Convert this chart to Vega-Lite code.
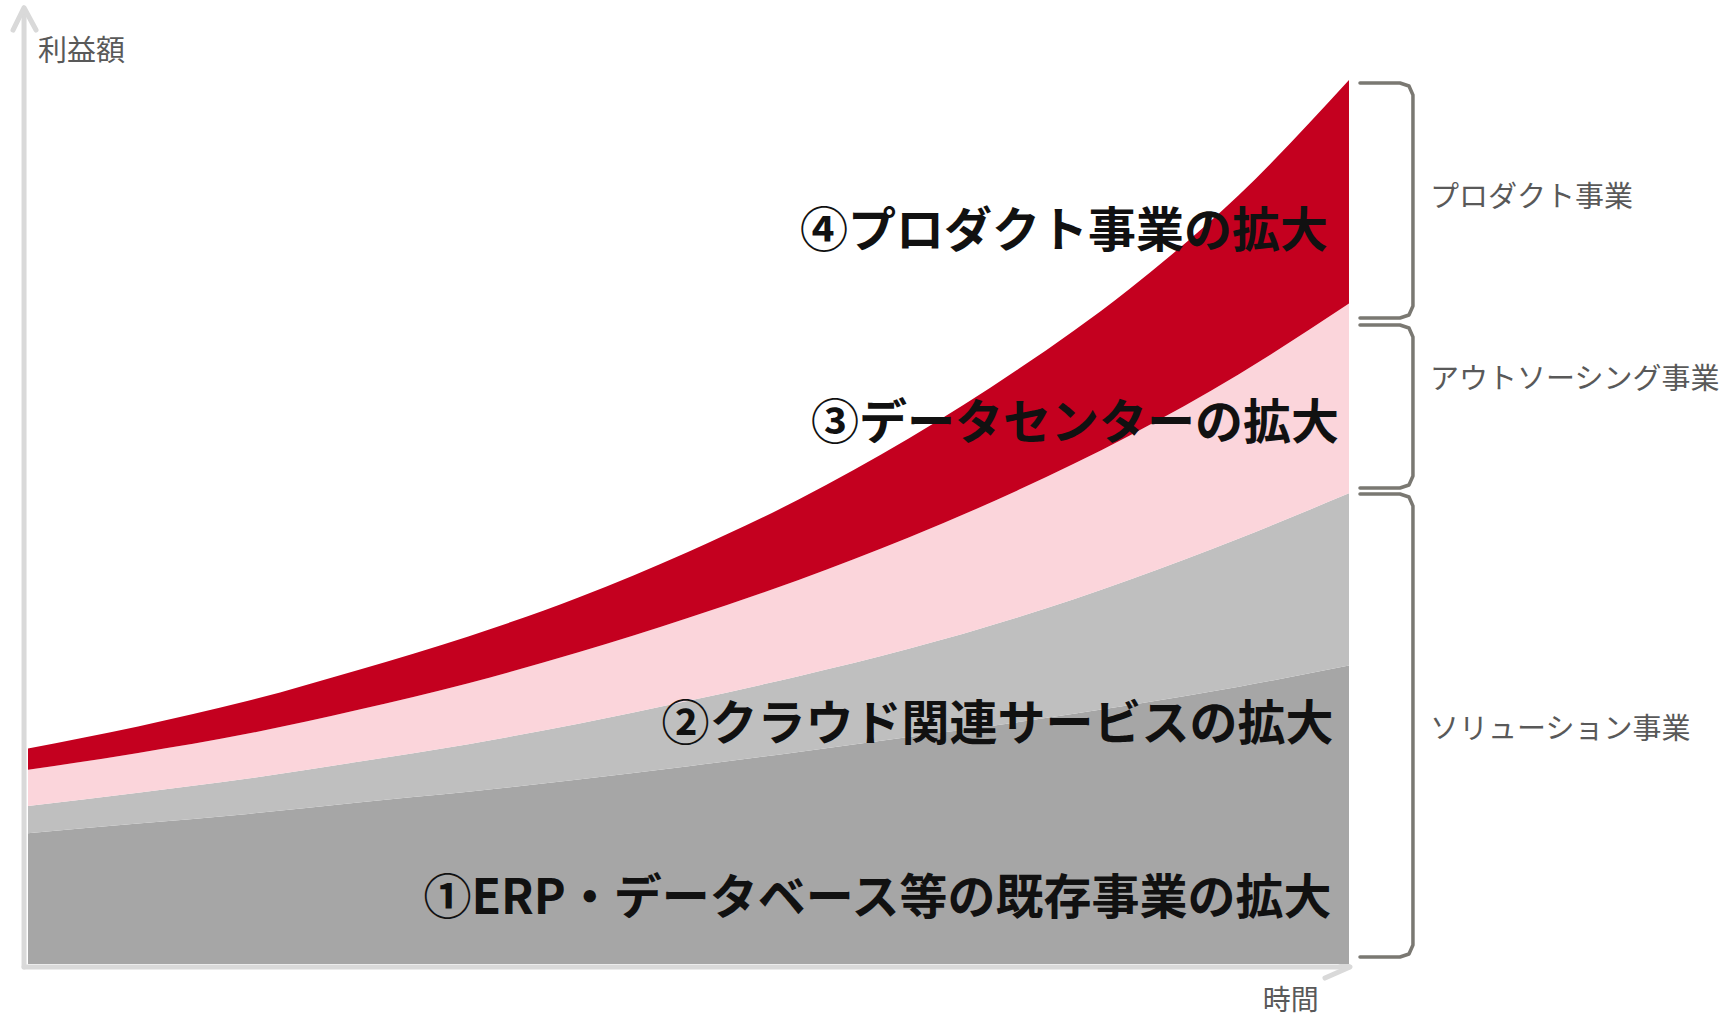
{
  "$schema": "https://vega.github.io/schema/vega-lite/v6.json",
  "width": 1731,
  "height": 1019,
  "autosize": {"type": "none"},
  "padding": 0,
  "background": "white",
  "config": {"view": {"stroke": null}},
  "datasets": {
    "areas": [
      {"t":0,"k":1,"s":"ERP・データベース等の既存事業","value":14.8},
      {"t":1,"k":1,"s":"ERP・データベース等の既存事業","value":15.9},
      {"t":2,"k":1,"s":"ERP・データベース等の既存事業","value":17.0},
      {"t":3,"k":1,"s":"ERP・データベース等の既存事業","value":18.3},
      {"t":4,"k":1,"s":"ERP・データベース等の既存事業","value":19.5},
      {"t":5,"k":1,"s":"ERP・データベース等の既存事業","value":20.9},
      {"t":6,"k":1,"s":"ERP・データベース等の既存事業","value":22.4},
      {"t":7,"k":1,"s":"ERP・データベース等の既存事業","value":24.0},
      {"t":8,"k":1,"s":"ERP・データベース等の既存事業","value":25.7},
      {"t":9,"k":1,"s":"ERP・データベース等の既存事業","value":27.4},
      {"t":10,"k":1,"s":"ERP・データベース等の既存事業","value":29.3},
      {"t":11,"k":1,"s":"ERP・データベース等の既存事業","value":31.4},
      {"t":12,"k":1,"s":"ERP・データベース等の既存事業","value":33.8},
      {"t":0,"k":2,"s":"クラウド関連サービス","value":3.1},
      {"t":1,"k":2,"s":"クラウド関連サービス","value":3.5},
      {"t":2,"k":2,"s":"クラウド関連サービス","value":4.0},
      {"t":3,"k":2,"s":"クラウド関連サービス","value":4.6},
      {"t":4,"k":2,"s":"クラウド関連サービス","value":5.4},
      {"t":5,"k":2,"s":"クラウド関連サービス","value":6.3},
      {"t":6,"k":2,"s":"クラウド関連サービス","value":7.4},
      {"t":7,"k":2,"s":"クラウド関連サービス","value":8.6},
      {"t":8,"k":2,"s":"クラウド関連サービス","value":10.0},
      {"t":9,"k":2,"s":"クラウド関連サービス","value":11.9},
      {"t":10,"k":2,"s":"クラウド関連サービス","value":14.2},
      {"t":11,"k":2,"s":"クラウド関連サービス","value":16.8},
      {"t":12,"k":2,"s":"クラウド関連サービス","value":19.5},
      {"t":0,"k":3,"s":"データセンター","value":4.1},
      {"t":1,"k":3,"s":"データセンター","value":4.5},
      {"t":2,"k":3,"s":"データセンター","value":5.1},
      {"t":3,"k":3,"s":"データセンター","value":5.9},
      {"t":4,"k":3,"s":"データセンター","value":6.9},
      {"t":5,"k":3,"s":"データセンター","value":8.1},
      {"t":6,"k":3,"s":"データセンター","value":9.4},
      {"t":7,"k":3,"s":"データセンター","value":10.9},
      {"t":8,"k":3,"s":"データセンター","value":12.6},
      {"t":9,"k":3,"s":"データセンター","value":14.4},
      {"t":10,"k":3,"s":"データセンター","value":16.3},
      {"t":11,"k":3,"s":"データセンター","value":18.6},
      {"t":12,"k":3,"s":"データセンター","value":21.5},
      {"t":0,"k":4,"s":"プロダクト事業","value":2.4},
      {"t":1,"k":4,"s":"プロダクト事業","value":3.0},
      {"t":2,"k":4,"s":"プロダクト事業","value":3.7},
      {"t":3,"k":4,"s":"プロダクト事業","value":4.5},
      {"t":4,"k":4,"s":"プロダクト事業","value":5.3},
      {"t":5,"k":4,"s":"プロダクト事業","value":6.2},
      {"t":6,"k":4,"s":"プロダクト事業","value":7.5},
      {"t":7,"k":4,"s":"プロダクト事業","value":9.1},
      {"t":8,"k":4,"s":"プロダクト事業","value":11.2},
      {"t":9,"k":4,"s":"プロダクト事業","value":13.7},
      {"t":10,"k":4,"s":"プロダクト事業","value":16.6},
      {"t":11,"k":4,"s":"プロダクト事業","value":20.3},
      {"t":12,"k":4,"s":"プロダクト事業","value":25.3}
    ],
    "axes": [
      {"id":"y","seq":0,"t":-0.036,"v":-0.34},
      {"id":"y","seq":1,"t":-0.036,"v":108.1},
      {"id":"ya","seq":0,"t":-0.136,"v":105.77},
      {"id":"ya","seq":1,"t":-0.036,"v":108.3},
      {"id":"ya","seq":2,"t":0.073,"v":105.77},
      {"id":"x","seq":0,"t":-0.036,"v":-0.34},
      {"id":"x","seq":1,"t":12.0,"v":-0.34},
      {"id":"xa","seq":0,"t":11.782,"v":1.02},
      {"id":"xa","seq":1,"t":12.009,"v":-0.34},
      {"id":"xa","seq":2,"t":11.782,"v":-1.59}
    ],
    "braces": [
      {"id":"b1","seq":0,"t":12.10,"v":99.77},
      {"id":"b1","seq":1,"t":12.463,"v":99.77},
      {"id":"b1","seq":2,"t":12.545,"v":99.43},
      {"id":"b1","seq":3,"t":12.581,"v":98.41},
      {"id":"b1","seq":4,"t":12.581,"v":74.52},
      {"id":"b1","seq":5,"t":12.545,"v":73.50},
      {"id":"b1","seq":6,"t":12.463,"v":73.16},
      {"id":"b1","seq":7,"t":12.10,"v":73.16},
      {"id":"b2","seq":0,"t":12.10,"v":72.37},
      {"id":"b2","seq":1,"t":12.463,"v":72.37},
      {"id":"b2","seq":2,"t":12.545,"v":72.03},
      {"id":"b2","seq":3,"t":12.581,"v":71.01},
      {"id":"b2","seq":4,"t":12.581,"v":55.27},
      {"id":"b2","seq":5,"t":12.545,"v":54.25},
      {"id":"b2","seq":6,"t":12.463,"v":53.91},
      {"id":"b2","seq":7,"t":12.10,"v":53.91},
      {"id":"b3","seq":0,"t":12.10,"v":53.23},
      {"id":"b3","seq":1,"t":12.463,"v":53.23},
      {"id":"b3","seq":2,"t":12.545,"v":52.89},
      {"id":"b3","seq":3,"t":12.581,"v":51.87},
      {"id":"b3","seq":4,"t":12.581,"v":2.15},
      {"id":"b3","seq":5,"t":12.545,"v":1.13},
      {"id":"b3","seq":6,"t":12.463,"v":0.79},
      {"id":"b3","seq":7,"t":12.10,"v":0.79}
    ],
    "biglabels": [
      {"t":11.81,"v":82.8,"label":"④プロダクト事業の拡大"},
      {"t":11.91,"v":61.04,"label":"③データセンターの拡大"},
      {"t":11.86,"v":26.95,"label":"②クラウド関連サービスの拡大"},
      {"t":11.84,"v":7.25,"label":"①ERP・データベース等の既存事業の拡大"}
    ],
    "sidelabels": [
      {"t":12.736,"v":86.75,"label":"プロダクト事業"},
      {"t":12.736,"v":66.14,"label":"アウトソーシング事業"},
      {"t":12.736,"v":26.5,"label":"ソリューション事業"},
      {"t":0.091,"v":103.28,"label":"利益額"}
    ],
    "xlabel": [
      {"t":11.47,"v":-4.3,"label":"時間"}
    ]
  },
  "layer": [
    {
      "data": {"name": "axes"},
      "mark": {"type": "line", "stroke": "#D9D9D9", "strokeWidth": 5, "strokeCap": "round", "strokeJoin": "round"},
      "encoding": {
        "x": {"field": "t", "type": "quantitative", "scale": {"domain": [-0.2544, 15.4702], "nice": false, "zero": false}, "axis": null},
        "y": {"field": "v", "type": "quantitative", "scale": {"domain": [-6.2288, 109.173], "nice": false, "zero": false}, "axis": null},
        "detail": {"field": "id"},
        "order": {"field": "seq", "type": "quantitative"}
      }
    },
    {
      "data": {"name": "areas"},
      "mark": {"type": "area", "interpolate": "monotone"},
      "encoding": {
        "x": {"field": "t", "type": "quantitative"},
        "y": {"field": "value", "type": "quantitative", "stack": "zero"},
        "color": {
          "field": "s", "type": "nominal",
          "scale": {"domain": ["ERP・データベース等の既存事業", "クラウド関連サービス", "データセンター", "プロダクト事業"],
                    "range": ["#A6A6A6", "#BFBFBF", "#FBD5DB", "#C4001F"]},
          "legend": null
        },
        "order": {"field": "k", "type": "quantitative"}
      }
    },
    {
      "data": {"name": "braces"},
      "mark": {"type": "line", "stroke": "#7A7872", "strokeWidth": 3.5, "strokeJoin": "round", "strokeCap": "round"},
      "encoding": {
        "x": {"field": "t", "type": "quantitative"},
        "y": {"field": "v", "type": "quantitative"},
        "detail": {"field": "id"},
        "order": {"field": "seq", "type": "quantitative"}
      }
    },
    {
      "data": {"name": "biglabels"},
      "mark": {"type": "text", "align": "right", "baseline": "middle", "font": "Noto Sans CJK JP", "fontWeight": "bold", "fontSize": 48, "color": "#111111"},
      "encoding": {
        "x": {"field": "t", "type": "quantitative"},
        "y": {"field": "v", "type": "quantitative"},
        "text": {"field": "label"}
      }
    },
    {
      "data": {"name": "sidelabels"},
      "mark": {"type": "text", "align": "left", "baseline": "middle", "font": "Noto Sans CJK JP", "fontSize": 29, "color": "#595959"},
      "encoding": {
        "x": {"field": "t", "type": "quantitative"},
        "y": {"field": "v", "type": "quantitative"},
        "text": {"field": "label"}
      }
    },
    {
      "data": {"name": "xlabel"},
      "mark": {"type": "text", "align": "center", "baseline": "middle", "font": "Noto Sans CJK JP", "fontSize": 28, "color": "#595959"},
      "encoding": {
        "x": {"field": "t", "type": "quantitative"},
        "y": {"field": "v", "type": "quantitative"},
        "text": {"field": "label"}
      }
    }
  ]
}
